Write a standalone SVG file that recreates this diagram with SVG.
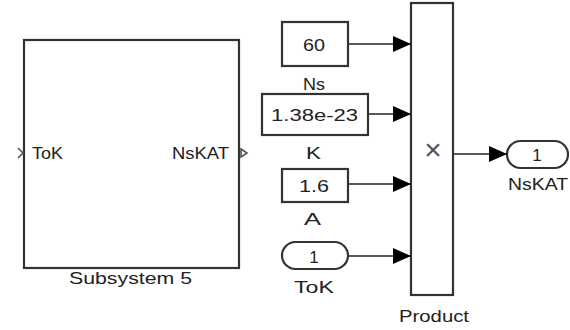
<svg xmlns="http://www.w3.org/2000/svg" width="570" height="330" viewBox="0 0 570 330">
<defs>
<style>
.blk{fill:#fff;stroke:#333;stroke-width:2.2}
.t{font-family:"Liberation Sans",Arial,sans-serif;font-size:17px;fill:#222}
.ln{stroke:#222;stroke-width:1.6;fill:none}
.port{fill:none;stroke:#555;stroke-width:1.6}
.mul{font-family:"Liberation Sans",Arial,sans-serif;font-size:30px;fill:#555}
</style>
<marker id="ah" viewBox="0 0 18 16" refX="18" refY="8" markerWidth="18" markerHeight="16" markerUnits="userSpaceOnUse" orient="auto">
<path d="M0,0 L18,8 L0,16 Z" fill="#000"/>
</marker>
</defs>
<rect width="570" height="330" fill="#fff"/>
<g id="subsystem5">
<rect class="blk" x="24" y="40" width="215" height="228"/>
<path class="port" d="M18,148 L23,153 L18,158"/>
<path class="port" d="M241,149 L247,153 L241,157 Z"/>
<text class="t" x="32" y="159" textLength="31" lengthAdjust="spacingAndGlyphs">ToK</text>
<text class="t" x="172" y="159" textLength="57" lengthAdjust="spacingAndGlyphs">NsKAT</text>
<text class="t" x="69" y="284" textLength="123" lengthAdjust="spacingAndGlyphs">Subsystem 5</text>
</g>
<g id="Ns">
<rect class="blk" x="282" y="22" width="66" height="44"/>
<text class="t" x="303" y="51" textLength="22" lengthAdjust="spacingAndGlyphs">60</text>
<text class="t" x="303" y="90" textLength="22" lengthAdjust="spacingAndGlyphs">Ns</text>
</g>
<g id="K">
<rect class="blk" x="262" y="94" width="106" height="41"/>
<text class="t" x="271" y="121" textLength="87" lengthAdjust="spacingAndGlyphs">1.38e-23</text>
<text class="t" x="306" y="159" textLength="15" lengthAdjust="spacingAndGlyphs">K</text>
</g>
<g id="A">
<rect class="blk" x="282" y="169" width="66" height="33"/>
<text class="t" x="299" y="192" textLength="30" lengthAdjust="spacingAndGlyphs">1.6</text>
<text class="t" x="304" y="225" textLength="17" lengthAdjust="spacingAndGlyphs">A</text>
</g>
<g id="ToK">
<rect class="blk" x="282" y="242" width="66" height="27" rx="13.5" ry="13.5"/>
<text class="t" x="314" y="263" text-anchor="middle">1</text>
<text class="t" x="294" y="293" textLength="40" lengthAdjust="spacingAndGlyphs">ToK</text>
</g>
<g id="Product">
<rect class="blk" x="411" y="3" width="42" height="292" stroke-width="1.8"/>
<text class="mul" x="433" y="160" text-anchor="middle">×</text>
<text class="t" x="399" y="322" textLength="70" lengthAdjust="spacingAndGlyphs">Product</text>
</g>
<g id="NsKAT">
<rect class="blk" x="507" y="141" width="61" height="27" rx="13.5" ry="13.5"/>
<text class="t" x="537" y="161" text-anchor="middle">1</text>
<text class="t" x="508" y="190" textLength="60" lengthAdjust="spacingAndGlyphs">NsKAT</text>
</g>
<g id="connectors">
<line class="ln" x1="349" y1="44" x2="411" y2="44" marker-end="url(#ah)"/>
<line class="ln" x1="369" y1="114" x2="411" y2="114" marker-end="url(#ah)"/>
<line class="ln" x1="349" y1="184" x2="411" y2="184" marker-end="url(#ah)"/>
<line class="ln" x1="349" y1="256" x2="411" y2="256" marker-end="url(#ah)"/>
<line class="ln" x1="454" y1="154" x2="507" y2="154" marker-end="url(#ah)"/>
</g>
</svg>
